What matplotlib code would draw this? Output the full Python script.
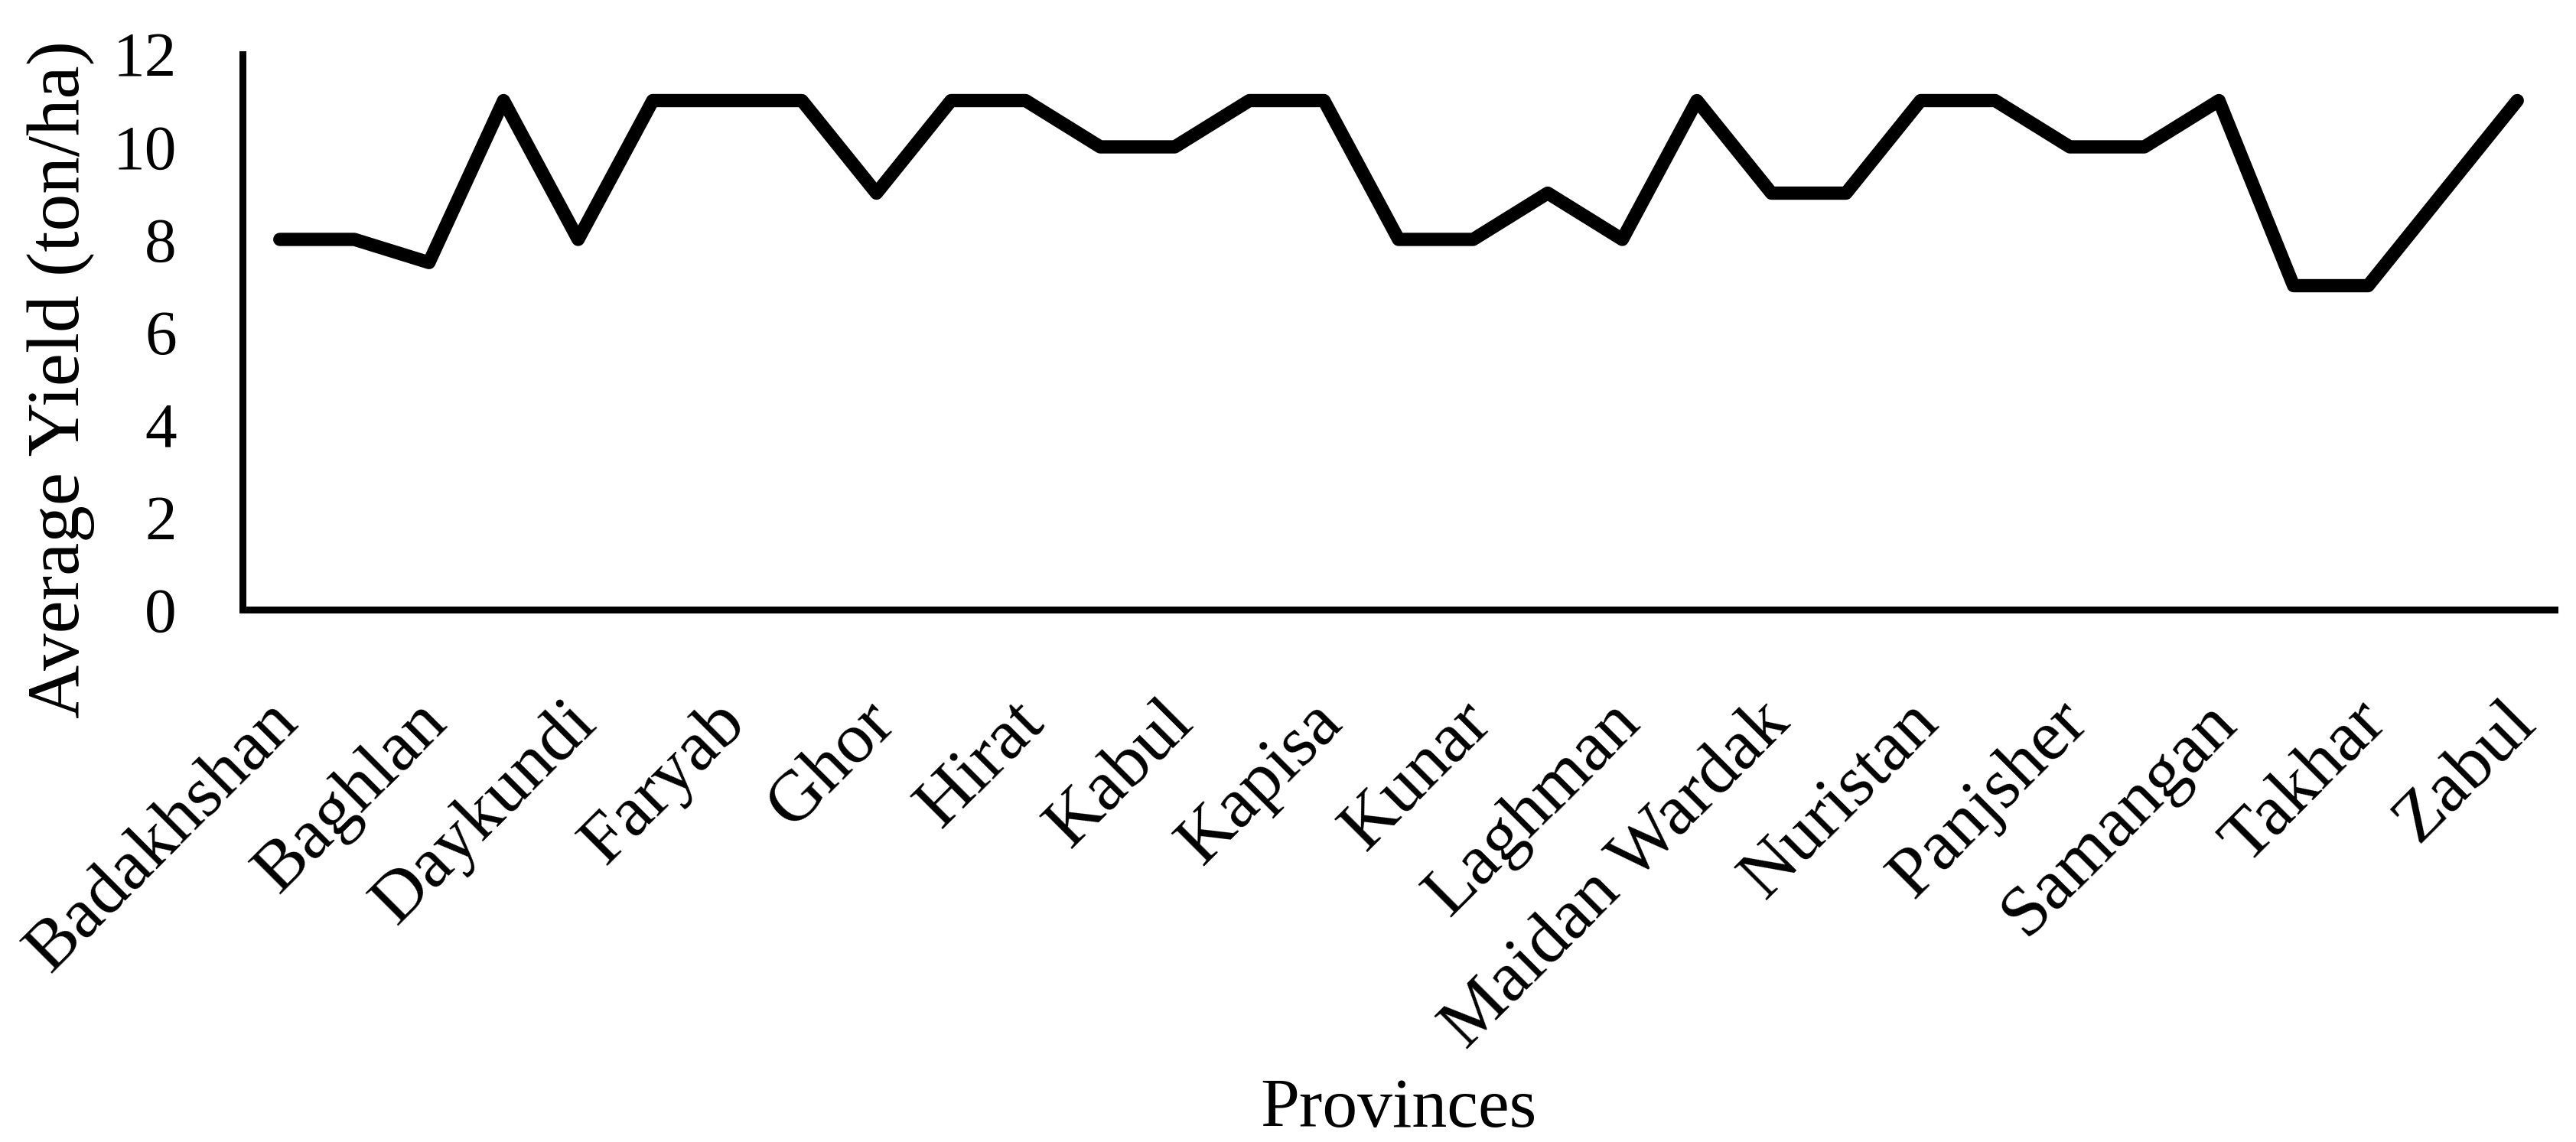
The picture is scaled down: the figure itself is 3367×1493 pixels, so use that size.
import numpy as np
import matplotlib
matplotlib.use("Agg")
import matplotlib.pyplot as plt
from matplotlib.transforms import ScaledTranslation

provinces = ["Badakhshan", "Badghis", "Baghlan", "Bamyan", "Daykundi", "Farah",
             "Faryab", "Ghazni", "Ghor", "Helmand", "Hirat", "Jawzjan", "Kabul",
             "Kandahar", "Kapisa", "Khost", "Kunar", "Kunduz", "Laghman", "Logar",
             "Maidan Wardak", "Nangarhar", "Nuristan", "Paktika", "Panjsher",
             "Parwan", "Samangan", "Sar-e-Pul", "Takhar", "Uruzgan", "Zabul"]
yield_values = [8, 8, 7.5, 11, 8, 11, 11, 11, 9, 11, 11, 10, 10, 11, 11, 8, 8,
                9, 8, 11, 9, 9, 11, 11, 10, 10, 11, 7, 7, 9, 11]
y_ticks = [0, 2, 4, 6, 8, 10, 12]

plt.rcParams['font.family'] = ['Liberation Serif', 'DejaVu Serif']

W, H = 3367, 1493
fig = plt.figure(figsize=(W / 100, H / 100), dpi=100)
ax = fig.add_axes([317 / W, 1 - 797 / H, (3339 - 317) / W, (797 - 71) / H])

x = np.arange(len(provinces))
ax.plot(x, yield_values, color='black', lw=12.5, solid_capstyle='round',
        solid_joinstyle='round')

ax.set_xlim(-0.5, len(provinces) - 0.5)
ax.set_ylim(0, 12)
ax.set_yticks(y_ticks)
ax.set_yticklabels([str(v) for v in y_ticks], fontsize=60)
ax.set_xticks(x[::2])
ax.set_xticklabels(provinces[::2], fontsize=68, rotation=45, ha='right',
                   va='top', rotation_mode='anchor')
ax.tick_params(axis='y', length=0, pad=62)
ax.tick_params(axis='x', length=0, pad=75)
shift = ScaledTranslation(-0.2, 0, fig.dpi_scale_trans)
for lab in ax.get_xticklabels():
    lab.set_transform(lab.get_transform() + shift)

for s in ['top', 'right']:
    ax.spines[s].set_visible(False)
for s in ['left', 'bottom']:
    ax.spines[s].set_linewidth(6.5)
    ax.spines[s].set_color('black')

fig.text(80 / W, 1 - 496 / H, "Average Yield (ton/ha)", rotation=90,
         ha='center', va='center', fontsize=70)
fig.text(1828 / W, 1 - 1473 / H, "Provinces", ha='center', va='baseline',
         fontsize=66)

fig.savefig("out.png", dpi=100, facecolor='white')
